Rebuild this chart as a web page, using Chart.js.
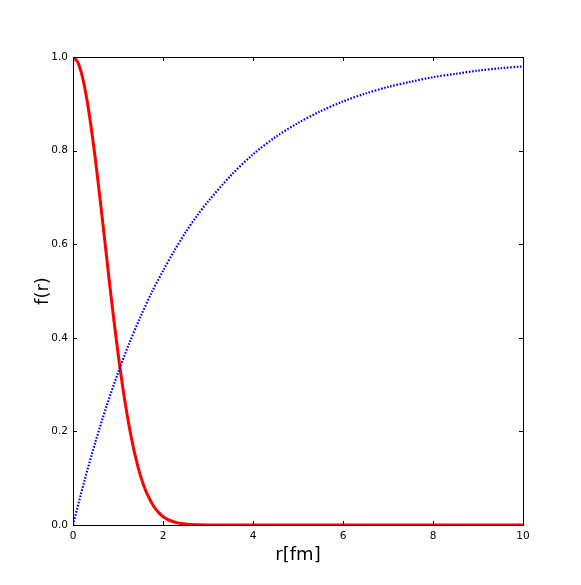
<!DOCTYPE html>
<html>
<head>
<meta charset="utf-8">
<script src="https://cdn.jsdelivr.net/npm/chart.js@4/dist/chart.umd.min.js"></script>
<style>
  html, body { margin: 0; padding: 0; background: #fff; }
  #wrap { width: 581px; height: 585px; }
</style>
</head>
<body>
<div id="wrap"><canvas id="myChart" width="581" height="585"></canvas></div>
<script>
// values
const redR = [0, 0.1, 0.2, 0.3, 0.4, 0.5, 0.6, 0.7, 0.8, 0.9, 1.0, 1.1, 1.2, 1.3, 1.4, 1.5, 1.6, 1.7, 1.8, 1.9, 2.0, 2.1, 2.2, 2.3, 2.4, 2.6, 2.8, 3.0, 4, 6, 8, 10];
const redF = [1.0, 0.99, 0.961, 0.914, 0.852, 0.779, 0.698, 0.613, 0.527, 0.445, 0.368, 0.298, 0.237, 0.185, 0.141, 0.105, 0.077, 0.056, 0.039, 0.027, 0.018, 0.012, 0.008, 0.005, 0.003, 0.001, 0.0004, 0, 0, 0, 0, 0];
const blueR = [0, 0.25, 0.5, 0.75, 1.0, 1.25, 1.5, 1.75, 2.0, 2.25, 2.5, 2.75, 3.0, 3.5, 4.0, 4.5, 5.0, 5.5, 6.0, 6.5, 7.0, 7.5, 8.0, 8.5, 9.0, 9.5, 10];
const blueF = [0, 0.093, 0.178, 0.255, 0.325, 0.388, 0.445, 0.497, 0.543, 0.586, 0.625, 0.66, 0.691, 0.746, 0.792, 0.829, 0.859, 0.884, 0.905, 0.922, 0.936, 0.947, 0.957, 0.964, 0.971, 0.976, 0.98];
const xTicks = [0, 2, 4, 6, 8, 10];
const yTicks = [0.0, 0.2, 0.4, 0.6, 0.8, 1.0];

const toPts = (xs, ys) => xs.map((x, i) => ({ x: x, y: ys[i] }));

// frame and inward tick marks on all four sides, like the original
const frame = {
  id: 'frame',
  afterDraw(chart) {
    const { ctx, chartArea: a, scales } = chart;
    ctx.save();
    ctx.strokeStyle = '#000';
    ctx.lineWidth = 1;
    ctx.strokeRect(a.left + 0.5, a.top + 0.5, a.right - a.left, a.bottom - a.top);
    ctx.beginPath();
    xTicks.forEach(function (v) {
      const px = Math.round(scales.x.getPixelForValue(v)) + 0.5;
      ctx.moveTo(px, a.bottom); ctx.lineTo(px, a.bottom - 4);
      ctx.moveTo(px, a.top); ctx.lineTo(px, a.top + 4);
    });
    yTicks.forEach(function (v) {
      const py = Math.round(scales.y.getPixelForValue(v)) + 0.5;
      ctx.moveTo(a.left, py); ctx.lineTo(a.left + 4, py);
      ctx.moveTo(a.right, py); ctx.lineTo(a.right - 4, py);
    });
    ctx.stroke();
    ctx.restore();
  }
};

const ctx = document.getElementById('myChart');
new Chart(ctx, {
  type: 'scatter',
  data: {
    datasets: [
      {
        data: toPts(blueR, blueF),
        showLine: true,
        borderColor: '#0000ff',
        borderWidth: 2.2,
        borderDash: [1.6, 1.6],
        pointRadius: 0,
        tension: 0.3,
      },
      {
        data: toPts(redR, redF),
        showLine: true,
        borderColor: '#ff0000',
        borderWidth: 3,
        pointRadius: 0,
        tension: 0.3,
      },
    ],
  },
  options: {
    responsive: false,
    animation: false,
    events: [],
    layout: { padding: { top: 57, right: 58, left: 0, bottom: 0 } },
    plugins: { legend: { display: false }, tooltip: { enabled: false } },
    scales: {
      x: {
        type: 'linear',
        min: 0,
        max: 10,
        afterBuildTicks: function (s) { s.ticks = xTicks.map(v => ({ value: v })); },
        afterFit: function (s) { s.height = 60; },
        grid: { display: false, drawTicks: false },
        border: { display: false },
        ticks: {
          color: '#000',
          padding: 5,
          font: { family: 'DejaVu Sans', size: 10.5 },
          callback: v => String(v),
        },
        title: {
          display: true,
          text: 'r[fm]',
          color: '#000',
          font: { family: 'DejaVu Sans', size: 18 },
          padding: { top: 0, bottom: 19 },
        },
      },
      y: {
        min: 0,
        max: 1,
        afterBuildTicks: function (s) { s.ticks = yTicks.map(v => ({ value: v })); },
        afterFit: function (s) { s.width = 73; },
        grid: { display: false, drawTicks: false },
        border: { display: false },
        ticks: {
          color: '#000',
          padding: 5,
          font: { family: 'DejaVu Sans', size: 10.5 },
          callback: v => v.toFixed(1),
        },
        title: {
          display: true,
          text: 'f(r)',
          color: '#000',
          font: { family: 'DejaVu Sans', size: 18 },
          padding: { top: 33, bottom: 0 },
        },
      },
    },
  },
  plugins: [frame],
});
</script>
</body>
</html>
